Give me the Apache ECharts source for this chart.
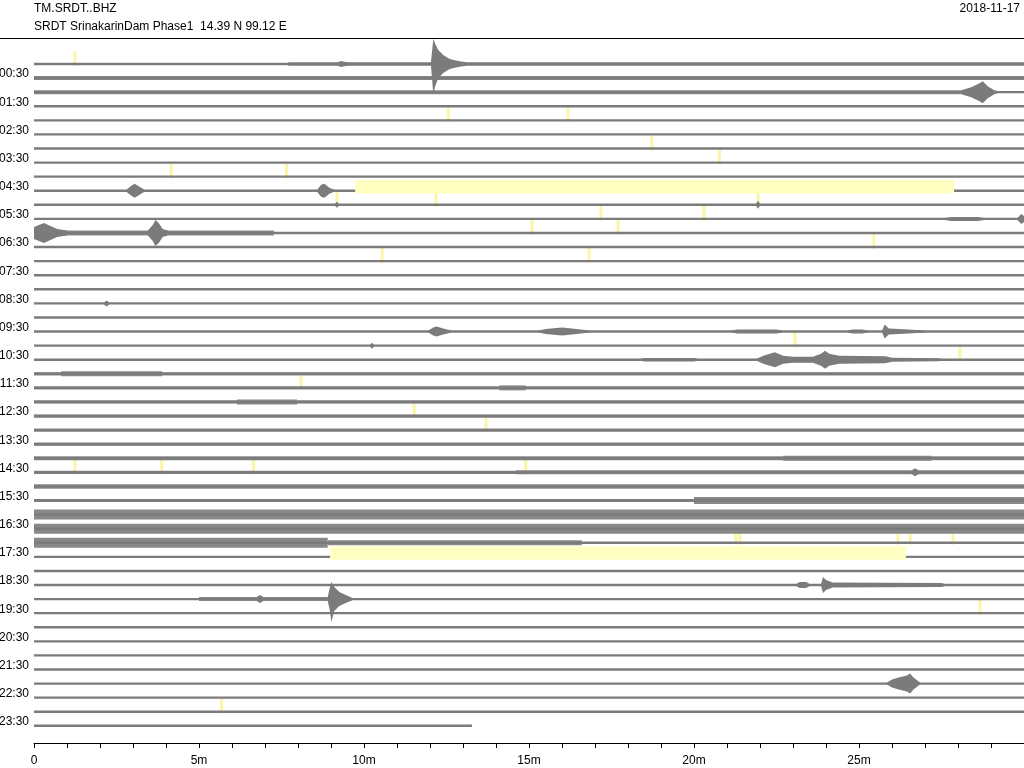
<!DOCTYPE html>
<html>
<head>
<meta charset="utf-8">
<script src="https://cdn.jsdelivr.net/npm/echarts@6/dist/echarts.min.js"></script>
<style>html,body{margin:0;padding:0;background:#fff}#c{width:1024px;height:768px}</style>
</head>
<body>
<div id="c"></div>
<script>
// ---------------- data ----------------
const stationTitle = 'TM.SRDT..BHZ';
const stationInfo = 'SRDT SrinakarinDam Phase1  14.39 N 99.12 E';
const dayLabel = '2018-11-17';

const rowLabels = ['00:00','00:30','01:00','01:30','02:00','02:30','03:00','03:30','04:00','04:30',
  '05:00','05:30','06:00','06:30','07:00','07:30','08:00','08:30','09:00','09:30',
  '10:00','10:30','11:00','11:30','12:00','12:30','13:00','13:30','14:00','14:30',
  '15:00','15:30','16:00','16:30','17:00','17:30','18:00','18:30','19:00','19:30',
  '20:00','20:30','21:00','21:30','22:00','22:30','23:00','23:30'];

// minutes of data in each 30-minute line
const traceEnd = [30,30,30,30,30,30,30,30,30,30, 30,30,30,30,30,30,30,30,30,30,
  30,30,30,30,30,30,30,30,30,30, 30,30,30,30,30,30,30,30,30,30,
  30,30,30,30,30,30,30,13.27];

// background half-amplitude of each line (display counts)
const baseNoise = [1.2,2.0,1.2,1.2,1.2,1.2,1.2,1.2,1.2,1.2,
  1.2,1.2,1.2,1.2,1.2,1.2,1.2,1.2,1.2,1.2,
  1.2,1.2,1.6,1.6,1.6,1.6,1.6,1.6,2.0,1.6,
  2.2,1.6,5.0,5.0,1.2,1.2,1.2,1.2,1.2,1.2,
  1.2,1.2,1.2,1.2,1.2,1.2,1.2,1.2];

// [line, startMin, endMin, halfAmplitude]
const noiseSegments = [
  [0, 7.7, 30, 1.8], [2, 0, 28.1, 2.0], [12, 0, 7.27, 2.5], [22, 0.82, 3.88, 2.5],
  [23, 14.1, 14.9, 2.5], [24, 6.15, 7.97, 2.5], [28, 22.7, 27.2, 2.5], [29, 14.6, 30, 2.0],
  [31, 20.0, 30, 3.5], [34, 0, 8.9, 5.0], [34, 8.9, 16.6, 2.5], [38, 5.0, 8.97, 2.0]
];

// events: [line, [[minute, up, down?], ...]]  envelope read from the record
const events = [
  [0, [[9.15,1],[9.3,3],[9.45,2],[9.6,1]]],
  [0, [[12.03,2],[12.1,25,30],[12.16,20,22],[12.25,14],[12.4,9],[12.6,5],[12.85,3],[13.1,1.8]]],
  [2, [[28.1,2],[28.4,5],[28.65,9],[28.75,11],[28.9,6],[29.1,2],[29.2,1.2]]],
  [9, [[2.8,1],[2.95,5],[3.05,7],[3.2,4],[3.35,1]]],
  [9, [[8.58,1],[8.7,6],[8.8,7],[8.95,3],[9.1,1]]],
  [10, [[9.12,1],[9.18,3],[9.24,1]]],
  [10, [[21.88,1],[21.94,4],[22.0,1]]],
  [11, [[27.6,1],[27.8,2],[28.6,2],[28.8,1]]],
  [11, [[29.8,1],[29.92,5],[30,3]]],
  [12, [[0,6],[0.15,8],[0.3,10],[0.5,7],[0.7,4],[1.0,2.5]]],
  [12, [[3.45,2.5],[3.6,8],[3.68,13],[3.78,10],[3.9,4],[4.05,2.5]]],
  [17, [[2.12,1],[2.2,3],[2.28,1]]],
  [19, [[11.95,1],[12.1,4],[12.2,5],[12.4,3],[12.65,1]]],
  [19, [[15.3,1],[15.5,2.5],[16.0,4],[16.3,3],[16.85,1]]],
  [19, [[21.15,1],[21.3,2],[22.5,2],[22.67,1]]],
  [19, [[24.67,1],[24.8,2],[25.1,2],[25.27,1]]],
  [19, [[25.7,1],[25.78,7],[25.9,3],[26.5,2],[27,1]]],
  [20, [[10.18,1],[10.24,3],[10.3,1]]],
  [21, [[18.4,1],[18.5,1.8],[20.0,1.8],[20.1,1]]],
  [21, [[21.9,1],[22.1,4],[22.3,6],[22.45,7.5],[22.7,4],[23.0,3],[23.6,3],[23.85,6],[23.97,9],[24.1,6],[24.4,4],[25.8,3.5],[26.0,2],[27.4,1.5],[27.5,1]]],
  [29, [[26.6,2],[26.7,4],[26.8,2]]],
  [37, [[23.1,1],[23.2,3],[23.4,3],[23.5,1],[23.85,1],[23.91,8],[24.0,5],[24.2,2.5],[27.5,2],[27.6,1]]],
  [38, [[6.75,2],[6.84,4],[6.95,2]]],
  [38, [[8.9,2],[8.97,12],[9.01,17,23],[9.1,12],[9.25,7],[9.45,4],[9.65,1.2]]],
  [44, [[25.85,1],[26.0,4],[26.2,6],[26.45,8],[26.55,10],[26.65,6],[26.85,1]]]
];

// highlighted gaps: [line, startMin, endMin]
const gapBars = [[9, 9.73, 27.88], [35, 8.97, 26.42]];

// pick marks: [line, minute]
const pickMarks = [[0,1.24],[4,12.55],[4,16.18],[6,18.72],[7,20.77],[8,4.16],[8,7.65],
  [10,9.18],[10,12.18],[10,21.94],[11,17.18],[11,20.3],[12,15.09],[12,17.7],[13,25.45],
  [14,10.55],[14,16.82],[20,23.06],[21,28.06],[23,8.09],[25,11.52],[26,13.7],
  [29,1.24],[29,3.87],[29,6.65],[29,14.9],[34,21.27],[34,21.39],[34,26.18],[34,26.55],[34,27.85],
  [39,28.67],[46,5.68]];

const xTickValues = [0,5,10,15,20,25];

// ---------------- drawing ----------------
const TRACE = '#7b7b7b';
const FUZZ = '#888888';
const CORE = 1.2;
const U = 1 / 14.08; // line units per display count
const LABEL_LIFT = 0.28; // labels sit slightly above their line
const FONT = '"Liberation Sans", Arial, sans-serif';

const chart = echarts.init(document.getElementById('c'), null, {renderer: 'canvas'});

function rectShape(api, a, b) {
  const p0 = api.coord(a), p1 = api.coord(b);
  return {x: Math.min(p0[0], p1[0]), y: Math.min(p0[1], p1[1]),
    width: Math.abs(p1[0] - p0[0]), height: Math.abs(p1[1] - p0[1])};
}

const labelRows = [];
for (let i = 1; i < rowLabels.length; i += 2) labelRows.push(i - LABEL_LIFT);

const option = {
  animation: false,
  grid: {left: 34, right: 0, top: 40, height: 703, containLabel: false, outerBoundsMode: 'none'},
  xAxis: {
    type: 'value', min: 0, max: 30, interval: 1,
    axisLine: {onZero: false, lineStyle: {color: '#000', width: 1}},
    axisTick: {show: true, length: 5, inside: false, lineStyle: {color: '#000'}},
    splitLine: {show: false},
    axisLabel: {
      interval: 0, margin: 12, color: '#000', fontSize: 12, fontFamily: FONT,
      showMaxLabel: false,
      formatter: v => xTickValues.indexOf(v) < 0 ? '' : (v === 0 ? '0' : v + 'm')
    }
  },
  yAxis: {
    type: 'value', inverse: true, min: -1.705, max: 48.22,
    axisLine: {show: false}, axisTick: {show: false}, splitLine: {show: false},
    axisLabel: {
      customValues: labelRows, margin: 5, color: '#000', fontSize: 12, fontFamily: FONT,
      formatter: v => rowLabels[Math.round(v + LABEL_LIFT)] || ''
    }
  },
  graphic: [
    {type: 'line', shape: {x1: 0, y1: 38.5, x2: 1024, y2: 38.5}, style: {stroke: '#000', lineWidth: 1}},
    {type: 'text', left: 34, top: 3, style: {text: stationTitle, fill: '#000', font: '12px ' + FONT}},
    {type: 'text', left: 34, top: 21, style: {text: stationInfo, fill: '#000', font: '12px ' + FONT}},
    {type: 'text', right: 4, top: 3, style: {text: dayLabel, fill: '#000', font: '12px ' + FONT}}
  ],
  series: [
    {
      name: 'picks', type: 'custom', z: 1, clip: false,
      data: pickMarks,
      renderItem: (params, api) => {
        const r = api.value(0), t = api.value(1);
        return {type: 'rect', shape: rectShape(api, [t - 0.045, r - 0.92], [t + 0.045, r + 0.14]),
          style: {fill: '#fbf5a6'}};
      }
    },
    {
      name: 'traces', type: 'custom', z: 2, clip: false,
      data: rowLabels.map((l, i) => [i]),
      renderItem: (params, api) => {
        const r = api.value(0), a = baseNoise[r] * U, c = CORE * U, end = traceEnd[r];
        const children = [];
        if (a > c) children.push({type: 'rect', shape: rectShape(api, [0, r - a], [end, r + a]), style: {fill: FUZZ}});
        const segs = noiseSegments.filter(s => s[0] === r);
        segs.forEach(s => children.push({type: 'rect',
          shape: rectShape(api, [s[1], r - s[3] * U], [s[2], r + s[3] * U]), style: {fill: FUZZ}}));
        children.push({type: 'rect', shape: rectShape(api, [0, r - c], [end, r + c]), style: {fill: TRACE}});
        return {type: 'group', children: children};
      }
    },
    {
      name: 'events', type: 'custom', z: 3, clip: false,
      data: events.map((e, k) => [k]),
      renderItem: (params, api) => {
        const ev = events[api.value(0)];
        const r = ev[0], env = ev[1];
        const top = env.map(p => api.coord([p[0], r - p[1] * U]));
        const bot = env.slice().reverse().map(p => api.coord([p[0], r + (p.length > 2 ? p[2] : p[1]) * U]));
        return {type: 'polygon', shape: {points: top.concat(bot)}, style: {fill: TRACE}};
      }
    },
    {
      name: 'gaps', type: 'custom', z: 4, clip: false,
      data: gapBars,
      renderItem: (params, api) => {
        const r = api.value(0);
        return {type: 'rect', shape: rectShape(api, [api.value(1), r - 0.76], [api.value(2), r + 0.2]),
          style: {fill: '#ffffc2'}};
      }
    }
  ]
};
chart.setOption(option);
</script>
</body>
</html>
